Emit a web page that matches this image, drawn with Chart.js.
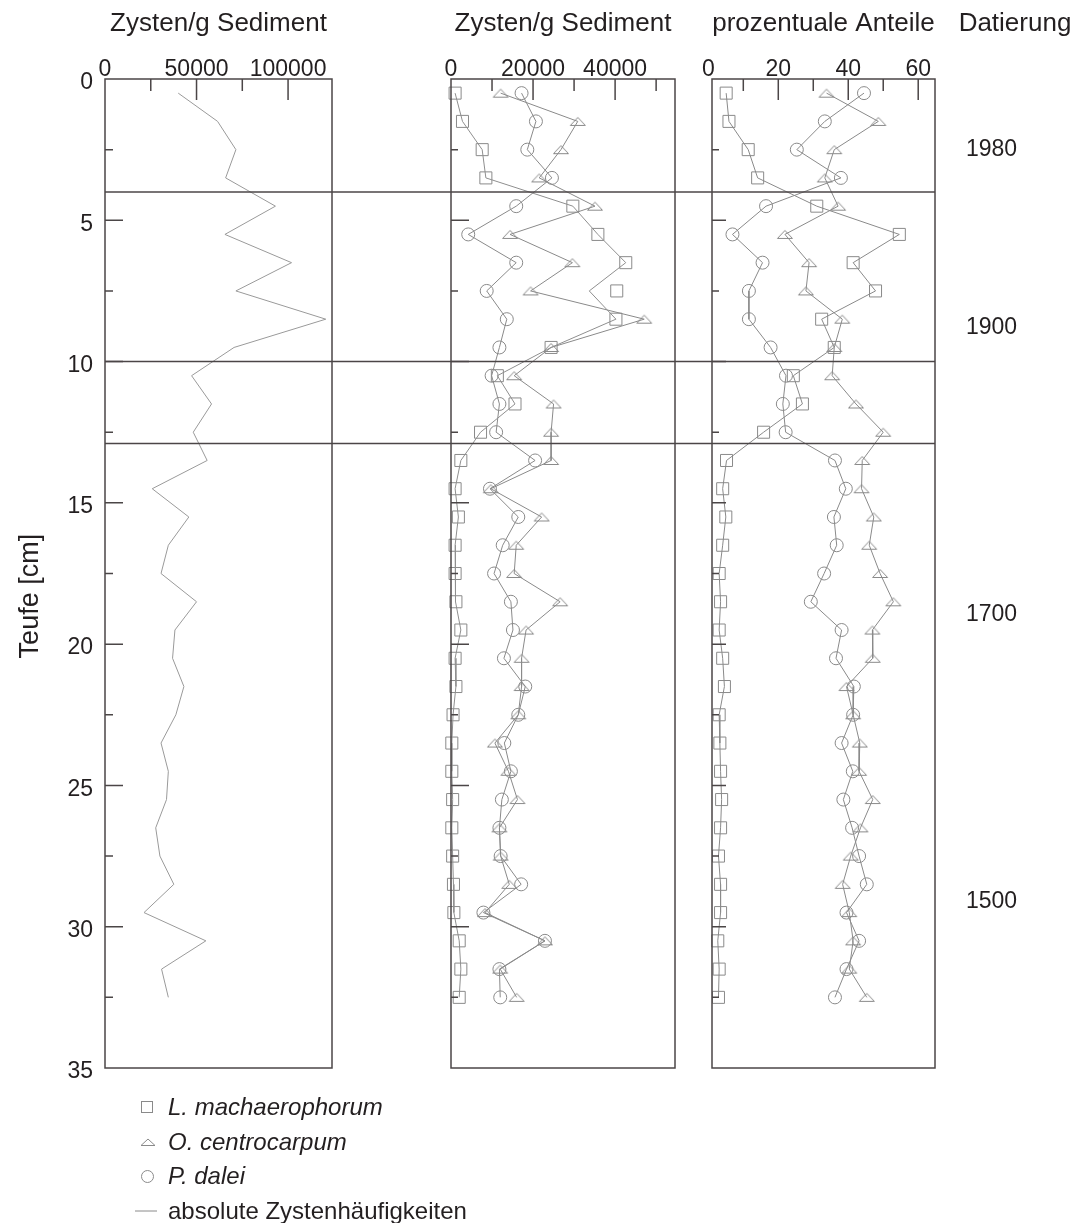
<!DOCTYPE html>
<html lang="de">
<head>
<meta charset="utf-8">
<title>Zystenprofil</title>
<script src="https://cdn.jsdelivr.net/npm/chart.js@4.4.1/dist/chart.umd.min.js"></script>
<style>
  body { margin: 0; background: #fff; }
  #wrap { position: relative; width: 1078px; height: 1223px; font-family: "Liberation Sans", Arial, sans-serif; color: #231f20; }
  #wrap canvas { position: absolute; top: 0; }
  #legend { position: absolute; left: 140px; top: 1090px; font-size: 24px; }
  #legend .row { height: 34.5px; display: flex; align-items: center; }
  #legend .sym { width: 28px; display: flex; align-items: center; }
  #legend i { font-style: italic; }
</style>
</head>
<body>
<div id="wrap">
  <canvas id="abs" width="451" height="1113" style="left:0px"></canvas>
  <canvas id="species" width="271" height="1113" style="left:441px"></canvas>
  <canvas id="pct" width="388" height="1113" style="left:690px"></canvas>
  <div id="legend">
    <div class="row"><span class="sym"><svg width="14" height="14"><rect x="1.5" y="1.5" width="11" height="11" fill="none" stroke="#8a8a8a"/></svg></span><i>L. machaerophorum</i></div>
    <div class="row"><span class="sym"><svg width="16" height="10"><path d="M1 8.5 L8 2 L15 8.5 Z" fill="none" stroke="#8a8a8a"/></svg></span><i>O. centrocarpum</i></div>
    <div class="row"><span class="sym"><svg width="15" height="15"><circle cx="7.5" cy="7.5" r="6" fill="none" stroke="#8a8a8a"/></svg></span><i>P. dalei</i></div>
    <div class="row"><span class="sym" style="margin-left:-6px;width:34px"><svg width="24" height="4"><line x1="1" y1="2" x2="23" y2="2" stroke="#8a8a8a"/></svg></span>absolute Zystenhäufigkeiten</div>
  </div>
</div>
<script>
// Probentiefen [cm]
const depth = [0.5, 1.5, 2.5, 3.5, 4.5, 5.5, 6.5, 7.5, 8.5, 9.5, 10.5, 11.5, 12.5, 13.5, 14.5, 15.5,
  16.5, 17.5, 18.5, 19.5, 20.5, 21.5, 22.5, 23.5, 24.5, 25.5, 26.5, 27.5, 28.5, 29.5, 30.5, 31.5, 32.5];

// absolute Zystenhäufigkeit gesamt [Zysten/g]
const totalAbs = [40000, 61500, 71500, 65900, 93100, 65500, 101900, 71500, 120600, 70500, 47300, 58200, 48200,
  55800, 25800, 45800, 34600, 30600, 50000, 38200, 36900, 43100, 38700, 30600, 34600, 33600, 27700, 30000,
  37600, 21300, 55100, 30900, 34600];

// Zysten/g je Art
const lmAbs = [1000, 2800, 7600, 8500, 29700, 35800, 42600, 40400, 40200, 24400, 11300, 15600, 7200,
  2400, 1000, 1800, 1000, 1000, 1200, 2400, 1000, 1200, 500, 200, 200, 400, 200, 400, 600, 700, 2000, 2400, 2000];
// Verbindungslinie L. machaerophorum (weicht bei 7.5 cm vom Symbol ab)
const lmAbsLine = [1000, 2800, 7600, 8500, 29700, 35800, 42600, 33700, 40200, 24400, 11300, 15600, 7200,
  2400, 1000, 1800, 1000, 1000, 1200, 2400, 1000, 1200, 500, 200, 200, 400, 200, 400, 600, 700, 2000, 2400, 2000];
const ocAbs = [12100, 30900, 26800, 21500, 35100, 14400, 29600, 19400, 47100, 24400, 15400, 25000, 24400,
  24400, 9700, 22100, 15900, 15400, 26600, 18300, 17200, 17200, 16400, 10700, 14000, 16200, 11800, 12100,
  14200, 8300, 22900, 12000, 16000];
const pdAbs = [17200, 20700, 18600, 24600, 15900, 4200, 15900, 8700, 13600, 11800, 9900, 11800, 11000,
  20500, 9500, 16400, 12600, 10500, 14600, 15100, 12900, 18100, 16400, 13000, 14600, 12400, 11800, 12100,
  17100, 7900, 22900, 11800, 12000];

// prozentuale Anteile
const lmPct = [5.1, 5.9, 11.4, 14.1, 31.0, 54.6, 41.4, 47.8, 32.4, 36.0, 24.3, 26.9, 15.8,
  5.2, 4.1, 5.0, 4.1, 3.1, 3.5, 3.1, 4.1, 4.6, 3.1, 3.3, 3.5, 3.8, 3.5, 2.9, 3.5, 3.5, 2.7, 3.1, 2.9];
const ocPct = [33.8, 48.6, 36.0, 33.3, 37.1, 21.9, 28.8, 27.9, 38.3, 36.0, 35.4, 42.2, 50.0,
  44.0, 43.8, 47.3, 46.0, 49.1, 52.9, 46.9, 47.0, 39.5, 41.4, 43.3, 43.1, 47.0, 43.5, 40.7, 38.4, 40.3, 41.4, 40.3, 45.3];
const pdPct = [44.5, 33.3, 25.3, 37.9, 16.5, 6.9, 15.5, 11.6, 11.6, 17.8, 22.2, 21.3, 22.1,
  36.2, 39.3, 35.9, 36.7, 33.1, 29.3, 38.1, 36.5, 41.6, 41.4, 38.1, 41.3, 38.6, 41.1, 43.1, 45.3, 39.5, 43.1, 39.5, 36.2];

// Achsenteilung
const yTicks = [0, 2.5, 5, 7.5, 10, 12.5, 15, 17.5, 20, 22.5, 25, 27.5, 30, 32.5, 35];
const xTicksAbs = [0, 25000, 50000, 75000, 100000];
const xTicksSpecies = [0, 10000, 20000, 30000, 40000, 50000];
const xTicksPct = [0, 10, 20, 30, 40, 50, 60];

// Zonengrenzen und Datierung
const boundaryDepths = [4, 10, 12.9];
const dateDepths = [2.5, 8.8, 18.95, 29.1];
const dateLabels = ['1980', '1900', '1700', '1500'];

const ink = '#231f20';
const frameColor = '#4b4647';
const markGray = '#8a8a8a';
const FONT = '"Liberation Sans", Arial, sans-serif';

Chart.defaults.font.family = FONT;
Chart.defaults.color = ink;

function pts(values) {
  return values.map((v, i) => ({ x: v, y: depth[i] }));
}

// flaches offenes Dreieck als Punktsymbol
function triangleMarker() {
  const c = document.createElement('canvas');
  c.width = 18; c.height = 11;
  const g = c.getContext('2d');
  g.strokeStyle = markGray;
  g.lineWidth = 1;
  g.beginPath();
  g.moveTo(1.5, 9.5); g.lineTo(9, 1.5); g.lineTo(16.5, 9.5); g.closePath();
  g.stroke();
  return c;
}
const tri = triangleMarker();

// Rahmen mit nach innen zeigenden Teilstrichen
const frameTicks = {
  id: 'frameTicks',
  afterDraw(chart, args, o) {
    const { ctx, chartArea: a, scales } = chart;
    ctx.save();
    ctx.strokeStyle = frameColor;
    ctx.lineWidth = 1.5;
    ctx.strokeRect(a.left, a.top, a.right - a.left, a.bottom - a.top);
    ctx.beginPath();
    o.xTicks.forEach(v => {
      const px = scales.x.getPixelForValue(v);
      if (px < a.left + 2 || px > a.right - 2) return;
      const len = v % o.xMajor === 0 ? 21 : 12;
      ctx.moveTo(px, a.top); ctx.lineTo(px, a.top + len);
    });
    yTicks.forEach(v => {
      const py = scales.y.getPixelForValue(v);
      if (py < a.top + 2 || py > a.bottom - 2) return;
      const len = v % 5 === 0 ? o.yMajorLen : o.yMinorLen;
      ctx.moveTo(a.left, py); ctx.lineTo(a.left + len, py);
    });
    ctx.stroke();
    ctx.restore();
  }
};

// durchgehende Linien an den Zonengrenzen
const zoneLines = {
  id: 'zoneLines',
  afterDatasetsDraw(chart, args, o) {
    const { ctx, chartArea: a, scales: { y } } = chart;
    const x1 = o.toEdge ? chart.width : a.right;
    ctx.save();
    ctx.strokeStyle = frameColor;
    ctx.lineWidth = 1.5;
    boundaryDepths.forEach(d => {
      const py = y.getPixelForValue(d);
      ctx.beginPath(); ctx.moveTo(a.left, py); ctx.lineTo(x1, py); ctx.stroke();
    });
    ctx.restore();
  }
};

// freie Beschriftungen: Tiefenachse und Datierungsspalte
const sideTitles = {
  id: 'sideTitles',
  afterDraw(chart, args, o) {
    const { ctx, chartArea: a, scales: { y } } = chart;
    ctx.save();
    ctx.font = o.size + 'px ' + FONT;
    ctx.fillStyle = ink;
    ctx.textAlign = 'center';
    ctx.textBaseline = 'middle';
    if (o.depthTitle) {
      ctx.translate(o.depthX, y.getPixelForValue(o.depthAt));
      ctx.rotate(-Math.PI / 2);
      ctx.fillText(o.depthTitle, 0, 0);
    }
    if (o.dateTitle) {
      ctx.fillText(o.dateTitle, a.right + o.dx, o.y);
    }
    ctx.restore();
  }
};

function xAxis(title, min, max, ticks, major) {
  return {
    type: 'linear', position: 'top', min, max,
    afterBuildTicks: s => { s.ticks = ticks.map(v => ({ value: v })); },
    afterFit: s => { s.height = 79; },
    grid: { display: false, drawTicks: false },
    border: { display: false },
    ticks: {
      autoSkip: false, maxRotation: 0, padding: -2, color: ink,
      font: { size: 23, lineHeight: 1 },
      callback: v => (v % major === 0 ? String(v) : '')
    },
    title: { display: true, text: title, color: ink, font: { size: 26 }, padding: { top: 8, bottom: 0 } }
  };
}

// Tiefenzahlen sitzen etwas unter dem Teilstrich: leere erste Zeile schiebt sie nach unten
function yAxis(show) {
  return {
    type: 'linear', position: 'left', min: 0, max: 35, reverse: true, display: show,
    afterBuildTicks: s => { s.ticks = yTicks.map(v => ({ value: v })); },
    afterFit: s => { s.width = show ? 105 : 0; },
    grid: { display: false, drawTicks: false },
    border: { display: false },
    ticks: {
      autoSkip: false, padding: 12, color: ink, font: { size: 23, lineHeight: '8px' },
      callback: v => (v % 5 === 0 ? ['', String(v)] : '')
    }
  };
}

function lineSet(values, color) {
  return {
    data: pts(values), showLine: true, borderColor: color, borderWidth: 1,
    pointRadius: 0, fill: false, clip: false
  };
}

function markerSet(values, style, radius, withLine) {
  return {
    data: pts(values), showLine: withLine, borderColor: markGray, borderWidth: 1,
    pointStyle: style, pointRadius: radius, pointBorderWidth: 1,
    pointBorderColor: markGray, pointBackgroundColor: 'rgba(0,0,0,0)',
    fill: false, clip: false
  };
}

const base = {
  responsive: false, animation: false, devicePixelRatio: 1, events: []
};

// absolute Zystenhäufigkeiten
new Chart(document.getElementById('abs'), {
  type: 'scatter',
  data: { datasets: [lineSet(totalAbs, '#9a9a9a')] },
  plugins: [frameTicks, zoneLines, sideTitles],
  options: {
    ...base,
    layout: { padding: { left: 0, right: 119, top: 0, bottom: 45 } },
    scales: { x: xAxis('Zysten/g Sediment', 0, 124000, xTicksAbs, 50000), y: yAxis(true) },
    plugins: {
      legend: { display: false }, tooltip: { enabled: false },
      frameTicks: { xTicks: xTicksAbs, xMajor: 50000, yMajorLen: 18, yMinorLen: 8 },
      zoneLines: { toEdge: true },
      sideTitles: { size: 27, depthTitle: 'Teufe [cm]', depthX: 31, depthAt: 18.3 }
    }
  }
});

// Zysten/g der einzelnen Arten
new Chart(document.getElementById('species'), {
  type: 'scatter',
  data: {
    datasets: [
      lineSet(lmAbsLine, '#8f8f8f'),
      markerSet(lmAbs, 'rect', 8.5, false),
      markerSet(ocAbs, tri, 8, true),
      markerSet(pdAbs, 'circle', 6.5, true)
    ]
  },
  plugins: [frameTicks, zoneLines],
  options: {
    ...base,
    layout: { padding: { left: 10, right: 37, top: 0, bottom: 45 } },
    scales: { x: xAxis('Zysten/g Sediment', 0, 54600, xTicksSpecies, 20000), y: yAxis(false) },
    plugins: {
      legend: { display: false }, tooltip: { enabled: false },
      frameTicks: { xTicks: xTicksSpecies, xMajor: 20000, yMajorLen: 18, yMinorLen: 7 },
      zoneLines: { toEdge: true }
    }
  }
});

// prozentuale Anteile mit Datierung
new Chart(document.getElementById('pct'), {
  type: 'scatter',
  data: {
    datasets: [
      markerSet(lmPct, 'rect', 8.5, true),
      markerSet(ocPct, tri, 8, true),
      markerSet(pdPct, 'circle', 6.5, true)
    ]
  },
  plugins: [frameTicks, zoneLines, sideTitles],
  options: {
    ...base,
    layout: { padding: { left: 22, right: 0, top: 0, bottom: 45 } },
    scales: {
      x: xAxis('prozentuale Anteile', 1.05, 64.8, xTicksPct, 20),
      y: yAxis(false),
      yd: {
        type: 'linear', position: 'right', min: 0, max: 35, reverse: true,
        afterBuildTicks: s => { s.ticks = dateDepths.map(v => ({ value: v })); },
        afterFit: s => { s.width = 143; },
        grid: { display: false, drawTicks: false },
        border: { display: false },
        ticks: { autoSkip: false, padding: 31, color: ink, font: { size: 23 }, callback: (v, i) => dateLabels[i] }
      }
    },
    plugins: {
      legend: { display: false }, tooltip: { enabled: false },
      frameTicks: { xTicks: xTicksPct, xMajor: 20, yMajorLen: 14, yMinorLen: 7 },
      zoneLines: { toEdge: false },
      sideTitles: { size: 26, dateTitle: 'Datierung', dx: 80, y: 24 }
    }
  }
});
</script>
</body>
</html>
